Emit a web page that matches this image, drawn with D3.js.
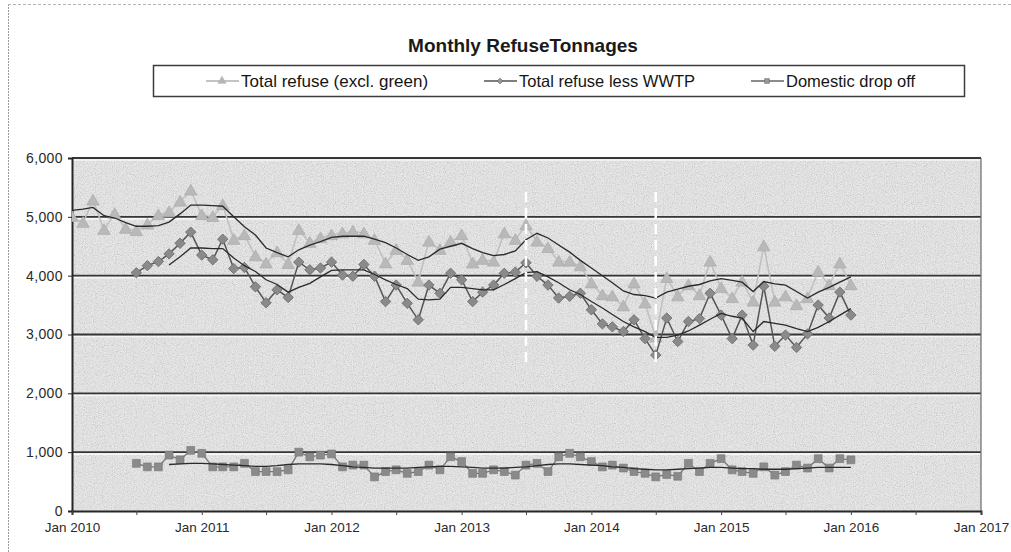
<!DOCTYPE html>
<html>
<head>
<meta charset="utf-8">
<script src="https://cdn.jsdelivr.net/npm/d3@7"></script>
<style>
  html, body { margin: 0; padding: 0; background: #fff; }
  svg { display: block; font-family: "Liberation Sans", Arial, sans-serif; }
</style>
</head>
<body>
<svg id="chart" width="1011" height="552"></svg>
<script>
// Monthly tonnages, one value per month from the series start month
const totalStart = "2010-01";
const totalRefuse = [
  5000, 4900, 5280, 4780, 5050, 4800, 4760, 4870, 5030, 5080, 5260, 5450,
  5030, 5000, 5200, 4610, 4690, 4330, 4210, 4400, 4200, 4780, 4560, 4640,
  4690, 4720, 4750, 4720, 4610, 4210, 4440, 4270, 3900, 4580, 4440, 4580,
  4690, 4210, 4270, 4240, 4720, 4610, 4860, 4580, 4470, 4240, 4240, 4160,
  3870, 3670, 3650, 3480, 3870, 3530, 2950, 3960, 3650, 3840, 3670, 4240,
  3790, 3620, 3900, 3560, 4500, 3560, 3650, 3500, 3620, 4070, 3840, 4210,
  3840
];

const lessStart = "2010-07";
const lessWWTP = [
  4050, 4170, 4240, 4370, 4550, 4740,
  4350, 4270, 4620, 4120, 4140, 3810, 3540, 3760, 3630, 4230, 4100, 4130,
  4230, 4010, 3990, 4190, 3990, 3560, 3840, 3530, 3250, 3840, 3700, 4040,
  3930, 3560, 3720, 3840, 4040, 4060, 4220, 3990, 3840, 3620, 3650, 3700,
  3420, 3180, 3130, 3050, 3250, 2930, 2650, 3280, 2880, 3220, 3270, 3700,
  3330, 2930, 3330, 2820, 3820, 2800, 2990, 2780, 3010, 3500, 3280, 3720,
  3330
];

const dropStart = "2010-07";
const dropOff = [
  810, 750, 750, 950, 870, 1030,
  980, 750, 750, 750, 810, 670, 670, 670, 700, 1000, 920, 950,
  970, 750, 780, 780, 580, 670, 700, 640, 670, 780, 700, 920,
  840, 640, 640, 700, 670, 610, 780, 810, 670, 920, 980, 920,
  840, 750, 780, 730, 670, 640, 580, 620, 590, 810, 670, 810,
  890, 700, 670, 640, 750, 610, 670, 780, 730, 890, 730, 890,
  870
];

// Moving-average trend lines for each series
const totalTrendStart = "2010-01";
const totalTrend = [
  5110, 5130, 5160, 5020, 4980, 4900, 4840, 4840, 4850, 4910, 5050, 5200,
  5200, 5190, 5180, 5000, 4830, 4690, 4470, 4390, 4320, 4440, 4520, 4580,
  4650, 4670, 4670, 4670, 4620, 4560, 4470, 4360, 4260, 4320, 4450, 4500,
  4550, 4460, 4390, 4340, 4360, 4420, 4610, 4720, 4640, 4520, 4400, 4260,
  4130, 4000, 3880, 3740, 3680, 3660, 3620, 3720, 3770, 3820, 3850, 3910,
  3950, 3920, 3890, 3730, 3900, 3860, 3840, 3730, 3620, 3720, 3800, 3890,
  3980
];

const lessTrendStart = "2010-10";
const lessTrend = [
  4180, 4320, 4470,
  4470, 4460, 4460, 4300, 4170, 4070, 3930, 3850, 3720, 3800, 3870, 3980,
  4090, 4100, 4100, 4100, 4020, 3930, 3850, 3780, 3600, 3590, 3600, 3800,
  3800, 3780, 3760, 3760, 3850, 3950, 4050, 4070, 3980, 3880, 3760, 3680,
  3560, 3450, 3340, 3220, 3130, 3050, 2950, 2950, 2990, 3060, 3160, 3260,
  3360, 3310, 3280, 3050, 3220, 3190, 3160, 3100, 3050, 3120, 3220, 3330,
  3440
];

const dropTrendStart = "2010-10";
const dropTrend = [
  790, 800, 810,
  810, 800, 790, 780, 770, 760, 760, 770, 790, 800, 800, 800,
  790, 770, 750, 740, 730, 730, 730, 730, 740, 750, 760, 760,
  750, 740, 730, 730, 730, 740, 750, 770, 790, 800, 800, 790,
  780, 770, 750, 740, 720, 710, 700, 700, 710, 720, 730, 740,
  740, 730, 720, 720, 710, 710, 710, 720, 730, 740, 740, 740,
  740
];

// Months flagged with white dashed markers, and the value span they cover
const flagMonths = ["2013-07", "2014-07"];
const flagSpan = [2500, 5420];

const yTicks = [0, 1000, 2000, 3000, 4000, 5000, 6000];
const xLabelYears = [2010, 2011, 2012, 2013, 2014, 2015, 2016, 2017];

const chartTitle = "Monthly RefuseTonnages";
const seriesNames = ["Total refuse (excl. green)", "Total refuse less WWTP", "Domestic drop off"];

// ---------------------------------------------------------------
const parseMonth = d3.timeParse("%Y-%m");
function toPoints(start, values) {
  const s = parseMonth(start);
  return values.map((v, i) => ({ date: d3.timeMonth.offset(s, i), value: v }));
}

const svg = d3.select("#chart");
const W = 1011, H = 552;
const plot = { left: 72, right: 981, top: 158, bottom: 511 };

const x = d3.scaleTime()
  .domain([new Date(2010, 0, 1), new Date(2017, 0, 1)])
  .range([plot.left, plot.right]);
const y = d3.scaleLinear().domain([0, 6000]).range([plot.bottom, plot.top]);

// Grain texture used on the plot area
const defs = svg.append("defs");
const grain = defs.append("filter").attr("id", "grain")
  .attr("x", 0).attr("y", 0).attr("width", "100%").attr("height", "100%");
grain.append("feTurbulence").attr("type", "fractalNoise")
  .attr("baseFrequency", 0.9).attr("numOctaves", 2).attr("seed", 7).attr("result", "n");
grain.append("feColorMatrix").attr("type", "matrix")
  .attr("values", "0.7 0.7 0 0 0.15  0.7 0.7 0 0 0.15  0.7 0.7 0 0 0.15  0 0 0 0 1");
defs.append("clipPath").attr("id", "plotClip").append("rect")
  .attr("x", plot.left).attr("y", plot.top - 8)
  .attr("width", plot.right - plot.left).attr("height", plot.bottom - plot.top + 8);

// Page frame
svg.append("rect").attr("width", W).attr("height", H).attr("fill", "#fff");
svg.append("line").attr("x1", 8.5).attr("x2", 8.5).attr("y1", 4).attr("y2", H)
  .attr("stroke", "#9a9a9a").attr("stroke-width", 1).attr("stroke-dasharray", "2,1");
svg.append("line").attr("x1", 8).attr("x2", W).attr("y1", 4.5).attr("y2", 4.5)
  .attr("stroke", "#b5b5b5").attr("stroke-width", 1).attr("stroke-dasharray", "3,2");

// Title
svg.append("text").attr("x", 523).attr("y", 52).attr("text-anchor", "middle")
  .attr("font-size", 19).attr("font-weight", "bold").attr("fill", "#1a1a1a")
  .text(chartTitle);

// Plot background
svg.append("rect").attr("x", plot.left).attr("y", plot.top)
  .attr("width", plot.right - plot.left).attr("height", plot.bottom - plot.top)
  .attr("fill", "#d2d2d2");
svg.append("rect").attr("x", plot.left).attr("y", plot.top)
  .attr("width", plot.right - plot.left).attr("height", plot.bottom - plot.top)
  .attr("filter", "url(#grain)").attr("opacity", 0.5);

// Gridlines: dark rule with a light edge beneath
const grid = svg.append("g");
yTicks.filter(t => t > 0).forEach(t => {
  grid.append("line").attr("x1", plot.left).attr("x2", plot.right)
    .attr("y1", y(t) + 2).attr("y2", y(t) + 2)
    .attr("stroke", "#f6f6f6").attr("stroke-width", 1.6);
  grid.append("line").attr("x1", plot.left).attr("x2", plot.right)
    .attr("y1", y(t)).attr("y2", y(t))
    .attr("stroke", "#363636").attr("stroke-width", 1.8);
});
svg.append("line").attr("x1", plot.right).attr("x2", plot.right)
  .attr("y1", plot.top).attr("y2", plot.bottom)
  .attr("stroke", "#6a6a6a").attr("stroke-width", 1.2);

// Axes
const yAxis = d3.axisLeft(y).tickValues(yTicks).tickSize(4).tickFormat(d3.format(","));
const gy = svg.append("g").attr("transform", `translate(${plot.left},0)`).call(yAxis);
gy.select(".domain").attr("stroke", "#262626").attr("stroke-width", 2);
gy.selectAll(".tick line").attr("stroke", "#262626");
gy.selectAll(".tick text").attr("font-size", 14).attr("fill", "#2a2a2a")
  .attr("letter-spacing", 0.4)
  .attr("font-family", "Liberation Sans, Arial, sans-serif").attr("x", -9);

const xTickDates = d3.range(0, 15).map(i => d3.timeMonth.offset(new Date(2010, 0, 1), i * 6));
const xAxis = d3.axisBottom(x).tickValues(xTickDates).tickSize(4)
  .tickFormat(d => d.getMonth() === 0 && xLabelYears.includes(d.getFullYear()) ? d3.timeFormat("Jan %Y")(d) : "");
const gx = svg.append("g").attr("transform", `translate(0,${plot.bottom})`).call(xAxis);
gx.select(".domain").attr("stroke", "#262626").attr("stroke-width", 2);
gx.selectAll(".tick line").attr("stroke", "#444");
gx.selectAll(".tick text").attr("font-size", 13.5).attr("fill", "#2a2a2a")
  .attr("font-family", "Liberation Sans, Arial, sans-serif").attr("dy", "1.0em");

// Series
const totalPts = toPoints(totalStart, totalRefuse);
const lessPts = toPoints(lessStart, lessWWTP);
const dropPts = toPoints(dropStart, dropOff);
const line = d3.line().x(d => x(d.date)).y(d => y(d.value));

const data = svg.append("g").attr("clip-path", "url(#plotClip)");

const triangle = d3.symbol().type(d3.symbolTriangle).size(66);
const diamond = d3.symbol().type(d3.symbolSquare).size(54);
const square = d3.symbol().type(d3.symbolSquare).size(62);

// Total refuse (excl. green)
data.append("path").datum(totalPts).attr("d", line)
  .attr("fill", "none").attr("stroke", "#c0c0c0").attr("stroke-width", 1.6);
data.selectAll(".tri").data(totalPts).join("path")
  .attr("transform", d => `translate(${x(d.date)},${y(d.value) + 1})`)
  .attr("d", triangle).attr("fill", "#b9b9b9").attr("stroke", "#adadad").attr("stroke-width", 0.8);

// Total refuse less WWTP
data.append("path").datum(lessPts).attr("d", line)
  .attr("fill", "none").attr("stroke", "#555").attr("stroke-width", 1.5);
data.selectAll(".dia").data(lessPts).join("path")
  .attr("transform", d => `translate(${x(d.date)},${y(d.value)}) rotate(45)`)
  .attr("d", diamond).attr("fill", "#8a8a8a").attr("stroke", "#6c6c6c").attr("stroke-width", 0.8);

// Domestic drop off
data.append("path").datum(dropPts).attr("d", line)
  .attr("fill", "none").attr("stroke", "#777").attr("stroke-width", 1.3);
data.selectAll(".sq").data(dropPts).join("path")
  .attr("transform", d => `translate(${x(d.date)},${y(d.value)})`)
  .attr("d", square).attr("fill", "#8a8a8a").attr("stroke", "#777").attr("stroke-width", 0.6);

// Trend lines
[[totalTrendStart, totalTrend], [lessTrendStart, lessTrend], [dropTrendStart, dropTrend]]
  .forEach(([s, vals]) => {
    data.append("path").datum(toPoints(s, vals)).attr("d", line)
      .attr("fill", "none").attr("stroke", "#2a2a2a").attr("stroke-width", 1.3);
  });

// Dashed white flags
flagMonths.forEach(m => {
  const xx = x(parseMonth(m));
  data.append("line").attr("x1", xx).attr("x2", xx)
    .attr("y1", y(flagSpan[1])).attr("y2", y(flagSpan[0]))
    .attr("stroke", "#ffffff").attr("stroke-width", 2.5).attr("stroke-dasharray", "10,6");
});

// Legend
const lg = svg.append("g");
lg.append("rect").attr("x", 153.5).attr("y", 65.5).attr("width", 811).attr("height", 31)
  .attr("fill", "#fff").attr("stroke", "#3c3c3c").attr("stroke-width", 1.5);
const legendItems = [
  { name: seriesNames[0], x0: 206, size: 17, stroke: "#b0b0b0", fill: "#b6b6b6", sym: d3.symbol().type(d3.symbolTriangle).size(28), rot: 0 },
  { name: seriesNames[1], x0: 484, size: 16.5, stroke: "#555", fill: "#9a9a9a", sym: d3.symbol().type(d3.symbolSquare).size(16), rot: 45 },
  { name: seriesNames[2], x0: 751, size: 16.5, stroke: "#666", fill: "#999", sym: d3.symbol().type(d3.symbolSquare).size(22), rot: 0 }
];
legendItems.forEach(it => {
  lg.append("line").attr("x1", it.x0).attr("x2", it.x0 + 33).attr("y1", 81).attr("y2", 81)
    .attr("stroke", it.stroke).attr("stroke-width", 1.4);
  lg.append("path").attr("d", it.sym())
    .attr("transform", `translate(${it.x0 + 16},81) rotate(${it.rot})`)
    .attr("fill", it.fill).attr("stroke", it.stroke).attr("stroke-width", 0.6);
  lg.append("text").attr("x", it.x0 + 35).attr("y", 87)
    .attr("font-size", it.size).attr("fill", "#151515").text(it.name);
});
</script>
</body>
</html>
